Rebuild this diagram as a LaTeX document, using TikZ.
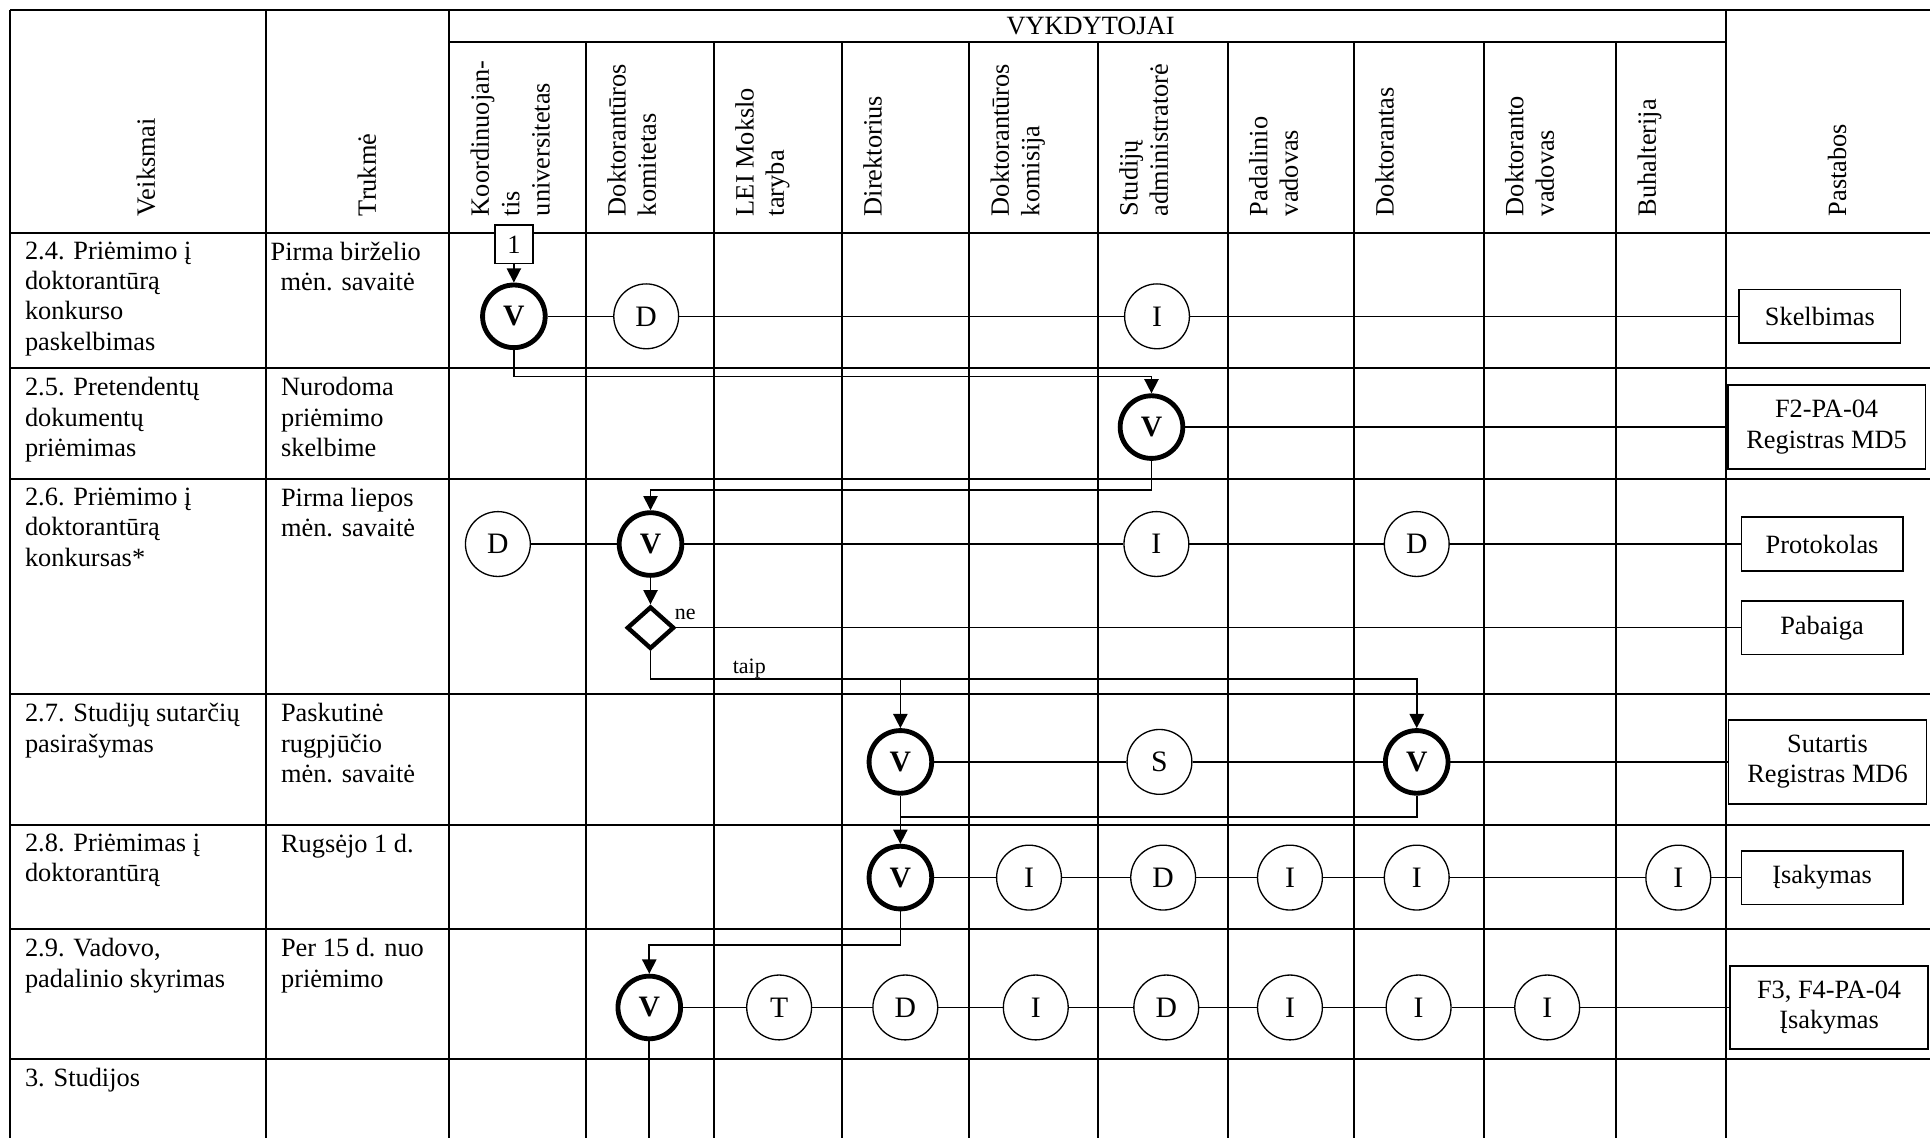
\documentclass[tikz,border=0pt]{standalone}
\usepackage{fontspec}
\setmainfont{Liberation Serif}
\usetikzlibrary{arrows.meta,shapes.geometric}

\begin{document}
\begin{tikzpicture}[x=0.56pt,y=-0.56pt,>={Triangle[length=6.5pt,width=6.5pt]},
  font=\fontsize{12}{13.8}\selectfont,
  tabline/.style={line width=1pt},
  tie/.style={line width=0.6pt},
  flow/.style={line width=0.75pt},
  act/.style={circle,draw,fill=white,line width=0.6pt,minimum size=29.5pt,
    inner sep=0pt,font=\fontsize{13.5}{15}\selectfont},
  lead/.style={act,line width=2.2pt,minimum size=28.5pt,
    font=\fontsize{13.5}{15}\selectfont\bfseries},
  doc/.style={draw,fill=white,line width=0.8pt,align=center,inner sep=1pt,
    minimum width=73.4pt,minimum height=24.4pt},
  docwide/.style={doc,minimum width=90pt,minimum height=38pt},
  numbox/.style={draw,fill=white,line width=0.8pt,minimum size=17.4pt,inner sep=0pt},
  decide/.style={diamond,draw,fill=white,line width=2pt,minimum width=21.5pt,
    minimum height=19.3pt,inner sep=0pt},
  hdr/.style={rotate=90,anchor=north west,align=left,inner sep=0pt},
  hmid/.style={rotate=90,anchor=west,inner sep=0pt},
  cell/.style={anchor=north west,align=left,inner sep=0pt},
  lbl/.style={anchor=base west,inner sep=0pt,font=\fontsize{10}{12}\selectfont}]

\useasboundingbox (0,0) rectangle (1568,924);
\clip (0,0) rectangle (1568,924);

% table frame
\draw[tabline] (8,8) -- (1575,8);
\draw[tabline] (365,34) -- (1402,34);
\draw[tabline] (8,189) -- (1575,189);
\draw[tabline] (8,299) -- (1575,299);
\draw[tabline] (8,389) -- (1575,389);
\draw[tabline] (8,564) -- (1575,564);
\draw[tabline] (8,670) -- (1575,670);
\draw[tabline] (8,755) -- (1575,755);
\draw[tabline] (8,860.5) -- (1575,860.5);
\draw[tabline] (8,8) -- (8,930);
\draw[tabline] (216,8) -- (216,930);
\draw[tabline] (365,8) -- (365,930);
\draw[tabline] (1402,8) -- (1402,930);
\draw[tabline] (1570,8) -- (1570,930);
\draw[tabline] (476,34) -- (476,930);
\draw[tabline] (580,34) -- (580,930);
\draw[tabline] (684,34) -- (684,930);
\draw[tabline] (787.5,34) -- (787.5,930);
\draw[tabline] (892,34) -- (892,930);
\draw[tabline] (997.5,34) -- (997.5,930);
\draw[tabline] (1100,34) -- (1100,930);
\draw[tabline] (1205.5,34) -- (1205.5,930);
\draw[tabline] (1313,34) -- (1313,930);

% header
\node[anchor=base,inner sep=0pt] (vykd) at (886,28) {VYKDYTOJAI};
\node[hmid] (hveik) at (118.5,176) {Veiksmai};
\node[hmid] (htruk) at (298,176) {Trukmė};
\node[hmid] (hpast) at (1492.5,176) {Pastabos};
\node[hdr] (hkoord) at (382,176) {Koordinuojan-\\tis\\universitetas};
\node[hdr] (hkom) at (493,176) {Doktorantūros\\komitetas};
\node[hdr] (hlei) at (597,176) {LEI Mokslo\\taryba};
\node[hdr] (hdir) at (701,176) {Direktorius};
\node[hdr] (hkmsj) at (804.5,176) {Doktorantūros\\komisija};
\node[hdr] (hadm) at (909,176) {Studijų\\administratorė};
\node[hdr] (hpad) at (1014.5,176) {Padalinio\\vadovas};
\node[hdr] (hdok) at (1117,176) {Doktorantas};
\node[hdr] (hvad) at (1222.5,176) {Doktoranto\\vadovas};
\node[hdr] (hbuh) at (1330,176) {Buhalterija};

% steps and terms
\node[cell] (s24) at (20,196) {2.4. Priėmimo į\\doktorantūrą\\konkurso\\paskelbimas};
\node[cell] (s25) at (20,306.4) {2.5. Pretendentų\\dokumentų\\priėmimas};
\node[cell] (s26) at (20,396.2) {2.6. Priėmimo į\\doktorantūrą\\konkursas*};
\node[cell] (s27) at (20,571.2) {2.7. Studijų sutarčių\\pasirašymas};
\node[cell] (s28) at (20,677.2) {2.8. Priėmimas į\\doktorantūrą};
\node[cell] (s29) at (20,762.2) {2.9. Vadovo,\\padalinio skyrimas};
\node[cell] (s3) at (20,867.7) {3. Studijos};
\node[cell] (p24) at (219.5,196) {Pirma birželio\\\hspace*{4.6pt}mėn. savaitė};
\node[cell] (p25) at (228,306.4) {Nurodoma\\priėmimo\\skelbime};
\node[cell] (p26) at (228,396.2) {Pirma liepos\\mėn. savaitė};
\node[cell] (p27) at (228,571.2) {Paskutinė\\rugpjūčio\\mėn. savaitė};
\node[cell] (p28) at (228,677.2) {Rugsėjo 1 d.};
\node[cell] (p29) at (228,762.2) {Per 15 d. nuo\\priėmimo};

% row 2.4
\node[numbox] (one) at (417.5,198.5) {1};
\node[lead] (v24) at (417.5,257) {V};
\node[act] (d24) at (525,257) {D};
\node[act] (i24) at (940,257) {I};
\node[doc] (skelb) at (1478.5,257) {Skelbimas};

% row 2.5
\node[lead] (v25) at (935.5,347) {V};
\node[docwide] (reg5) at (1484,347) {F2-PA-04\\Registras MD5};

% row 2.6
\node[act] (d26a) at (404.5,442) {D};
\node[lead] (v26) at (528.5,442) {V};
\node[act] (i26) at (939.5,442) {I};
\node[act] (d26b) at (1151,442) {D};
\node[doc] (prot) at (1480.3,442) {Protokolas};
\node[decide] (dec) at (528.5,510) {};
\node[doc] (pab) at (1480.3,510) {Pabaiga};
\node[lbl] (ne) at (548,503) {ne};
\node[lbl] (taip) at (595,547) {taip};

% row 2.7
\node[lead] (v27a) at (731.5,619) {V};
\node[act] (s27c) at (942,619) {S};
\node[lead] (v27b) at (1151,619) {V};
\node[docwide] (sut) at (1484.7,619) {Sutartis\\Registras MD6};

% row 2.8
\node[lead] (v28) at (731.5,713) {V};
\node[act] (i28a) at (836,713) {I};
\node[act] (d28) at (945,713) {D};
\node[act] (i28b) at (1048,713) {I};
\node[act] (i28c) at (1151,713) {I};
\node[act] (i28d) at (1363.5,713) {I};
\node[doc] (isak) at (1480.3,713) {Įsakymas};

% row 2.9
\node[lead] (v29) at (527.5,818.5) {V};
\node[act] (t29) at (633,818.5) {T};
\node[act] (d29a) at (735.5,818.5) {D};
\node[act] (i29a) at (841.5,818.5) {I};
\node[act] (d29b) at (947.5,818.5) {D};
\node[act] (i29b) at (1048,818.5) {I};
\node[act] (i29c) at (1152.5,818.5) {I};
\node[act] (i29d) at (1257,818.5) {I};
\node[docwide] (ord) at (1486,818.5) {F3, F4-PA-04\\Įsakymas};

% bend levels
\coordinate (k1) at (0,306);
\coordinate (k2) at (0,398);
\coordinate (k4) at (0,551.5);
\coordinate (k5) at (0,664);
\coordinate (k6) at (0,767.5);
\coordinate (kend) at (0,935);

% participation lines
\draw[tie] (v24) -- (d24) -- (i24) -- (skelb);
\draw[tie] (v25) -- (reg5);
\draw[tie] (d26a) -- (v26) -- (i26) -- (d26b) -- (prot);
\draw[tie] (dec.east) -- (pab);
\draw[tie] (v27a) -- (s27c) -- (v27b) -- (sut);
\draw[tie] (v28) -- (i28a) -- (d28) -- (i28b) -- (i28c) -- (i28d) -- (isak);
\draw[tie] (v29) -- (t29) -- (d29a) -- (i29a) -- (d29b) -- (i29b) -- (i29c)
  -- (i29d) -- (ord);

% flow
\draw[flow,->] (one) -- (v24);
\draw[flow,->] (v24.south) -- (v24.south |- k1) -| (v25.north);
\draw[flow,->] (v25.south) -- (v25.south |- k2) -| (v26.north);
\draw[flow,->] (v26) -- (dec);
\draw[flow,->] (dec.south) |- (v27b.north |- k4) -- (v27b.north);
\draw[flow,->] (v27a.north |- k4) -- (v27a.north);
\draw[flow] (v27b.south) |- (v27a.south |- k5);
\draw[flow,->] (v27a) -- (v28);
\draw[flow,->] (v28.south) -- (v28.south |- k6) -| (v29.north);
\draw[flow] (v29.south) -- (v29.south |- kend);

\end{tikzpicture}
\end{document}
